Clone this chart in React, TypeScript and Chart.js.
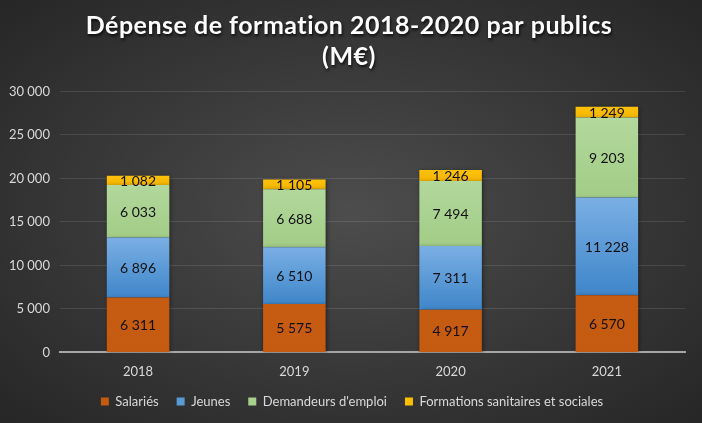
import React, { useEffect, useRef } from "react";
import { Chart, registerables } from "chart.js";

Chart.register(...registerables);

const categories = ["2018", "2019", "2020", "2021"];
const salaries = [6311, 5575, 4917, 6570];
const jeunes = [6896, 6510, 7311, 11228];
const demandeurs = [6033, 6688, 7494, 9203];
const sanitaires = [1082, 1105, 1246, 1249];
const yTicks = [0, 5000, 10000, 15000, 20000, 25000, 30000];
const titleLines = ["Dépense de formation 2018-2020 par publics", "(M€)"];

const seriesNames = ["Salariés", "Jeunes", "Demandeurs d'emploi", "Formations sanitaires et sociales"];
const seriesData = [salaries, jeunes, demandeurs, sanitaires];
const gradStops: [string, string][] = [
  ["#c65b12", "#c55a11"],
  ["#7aafe4", "#3f86c9"],
  ["#b2d89c", "#a2cc86"],
  ["#ffc20a", "#f3b500"],
];
const legendColors = ["#c55a11", "#5b9bd5", "#a9d18e", "#ffc000"];

const fmt = (v: number) => {
  const s = Math.round(v).toString();
  return s.replace(/\B(?=(\d{3})+(?!\d))/g, "\u202F");
};

const FONT = "Lato, 'Open Sans', sans-serif";
const TITLE_SIZE = 25;
const TITLE_LH = 1.25;
const TITLE_PAD_TOP = 6;

export default function App() {
  const ref = useRef<HTMLCanvasElement | null>(null);
  useEffect(() => {
    if (!ref.current) return;
    const shadowPlugin = {
      id: "barShadow",
      beforeDatasetsDraw(chart: any) {
        const ctx = chart.ctx;
        ctx.save();
        ctx.shadowColor = "rgba(0,0,0,0.45)";
        ctx.shadowBlur = 4;
        ctx.shadowOffsetX = 1;
        ctx.shadowOffsetY = 1;
      },
      afterDatasetsDraw(chart: any) {
        chart.ctx.restore();
      },
    };
    const legendShift = {
      id: "legendShift",
      afterLayout(chart: any) {
        const lg = chart.legend;
        if (lg) {
          lg.top -= 15;
          lg.bottom -= 15;
          lg.left += 10;
          lg.right += 10;
        }
      },
    };
    const labelPlugin = {
      id: "segLabels",
      afterDatasetsDraw(chart: any) {
        const ctx = chart.ctx;
        ctx.save();
        ctx.font = `14px ${FONT}`;
        ctx.fillStyle = "#111111";
        ctx.textAlign = "center";
        ctx.textBaseline = "middle";
        chart.data.datasets.forEach((ds: any, i: number) => {
          const meta = chart.getDatasetMeta(i);
          meta.data.forEach((el: any, j: number) => {
            const cy = (el.y + el.base) / 2;
            ctx.fillText(fmt(ds.data[j]), el.x, cy + 1);
          });
        });
        ctx.restore();
      },
    };
    const titlePlugin = {
      id: "titleDraw",
      afterDraw(chart: any) {
        const tb = chart.titleBlock;
        if (!tb) return;
        const ctx = chart.ctx;
        ctx.save();
        ctx.font = `bold ${TITLE_SIZE}px ${FONT}`;
        try {
          (ctx as any).letterSpacing = "0.5px";
        } catch (e) {}
        ctx.fillStyle = "#ffffff";
        ctx.textAlign = "center";
        ctx.textBaseline = "middle";
        ctx.shadowColor = "rgba(0,0,0,0.75)";
        ctx.shadowBlur = 3;
        ctx.shadowOffsetX = 1;
        ctx.shadowOffsetY = 2;
        const cx = chart.width / 2 - 2;
        const lh = TITLE_SIZE * TITLE_LH;
        titleLines.forEach((t, i) => {
          ctx.fillText(t, cx, tb.top + TITLE_PAD_TOP + lh * (i + 0.5));
        });
        ctx.restore();
      },
    };
    const datasets = seriesData.map((arr, i) => ({
      label: seriesNames[i],
      data: arr,
      borderWidth: 0,
      barPercentage: 0.8,
      categoryPercentage: 0.5,
      backgroundColor: (c: any) => {
        const chart = c.chart;
        const ys = chart.scales?.y;
        if (!ys || c.dataIndex === undefined) return legendColors[i];
        let bottom = 0;
        for (let k = 0; k < i; k++) bottom += seriesData[k][c.dataIndex];
        const top = bottom + arr[c.dataIndex];
        const y0 = ys.getPixelForValue(top);
        const y1 = ys.getPixelForValue(bottom);
        if (!isFinite(y0) || !isFinite(y1) || y0 === y1) return legendColors[i];
        const g = chart.ctx.createLinearGradient(0, y0, 0, y1);
        g.addColorStop(0, gradStops[i][0]);
        g.addColorStop(1, gradStops[i][1]);
        return g;
      },
    }));
    const chart = new Chart(ref.current, {
      type: "bar",
      data: { labels: categories, datasets },
      plugins: [shadowPlugin, labelPlugin, titlePlugin, legendShift],
      options: {
        animation: false,
        responsive: false,
        maintainAspectRatio: false,
        layout: { padding: { left: -1, right: 17, top: 4, bottom: -10 } },
        plugins: {
          title: {
            display: true,
            text: titleLines,
            color: "rgba(0,0,0,0)",
            font: { family: FONT, size: TITLE_SIZE, weight: "bold", lineHeight: TITLE_LH },
            padding: { top: TITLE_PAD_TOP, bottom: 19 },
          },
          legend: {
            position: "bottom",
            labels: {
              color: "#d9d9d9",
              font: { family: FONT, size: 13 },
              boxWidth: 8,
              boxHeight: 8,
              padding: 18,
              generateLabels: () =>
                seriesNames.map((n, i) => ({
                  text: n,
                  fillStyle: legendColors[i],
                  strokeStyle: legendColors[i],
                  lineWidth: 0,
                  fontColor: "#d9d9d9",
                  datasetIndex: i,
                  hidden: false,
                })),
            },
          },
          tooltip: { enabled: false },
        },
        scales: {
          x: {
            stacked: true,
            grid: { display: false, drawTicks: false },
            border: { display: true, color: "#a6a6a6", width: 2 },
            ticks: { color: "#d9d9d9", font: { family: FONT, size: 13 }, padding: 12 },
          },
          y: {
            stacked: true,
            min: 0,
            max: 30000,
            afterBuildTicks: (axis: any) => {
              axis.ticks = yTicks.map((v) => ({ value: v }));
            },
            grid: { color: "rgba(255,255,255,0.11)", drawTicks: false },
            border: { display: false },
            ticks: {
              color: "#d9d9d9",
              font: { family: FONT, size: 13 },
              padding: 10,
              callback: (v: any) => fmt(Number(v)),
            },
          },
        },
      },
    });
    return () => chart.destroy();
  }, []);
  return (
    <div
      style={{
        position: "fixed",
        left: 0,
        top: 0,
        width: 702,
        height: 423,
        background: "radial-gradient(ellipse at 50% 50%, #4d4d4d 0%, #3b3b3b 45%, #262626 100%)",
      }}
    >
      <canvas ref={ref} width={702} height={423} style={{ display: "block" }} />
    </div>
  );
}
